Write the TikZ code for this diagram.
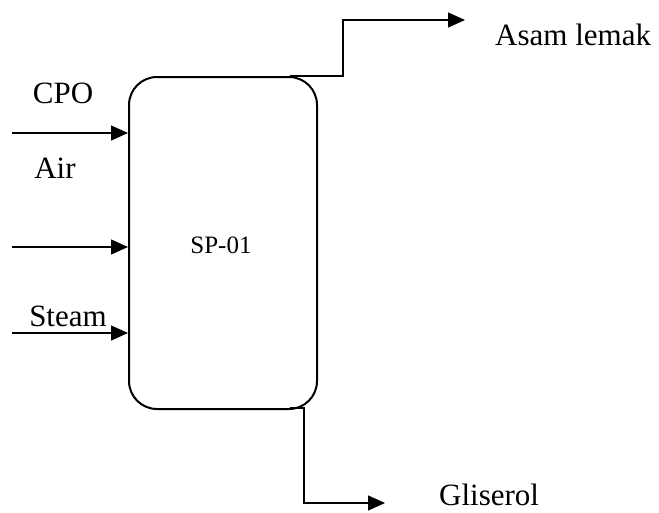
\documentclass[tikz,border=0pt]{standalone}
\usepackage{fontspec}
\setmainfont{Liberation Serif}
\usetikzlibrary{arrows.meta,calc}
\begin{document}
\begin{tikzpicture}[x=1pt,y=-1pt,
  lbl/.style={font=\fontsize{31}{35}\selectfont, inner sep=0pt},
  flow/.style={line width=1.3pt, -{Triangle[length=17pt,width=15pt]}},
  unit/.style={draw, line width=2pt, rounded corners=28pt}]
\useasboundingbox (0,0) rectangle (659,512);
\node[unit, minimum width=188pt, minimum height=332pt, anchor=north west] (sp) at (128,76) {};
\node[font=\fontsize{25}{30}\selectfont, inner sep=0pt] (splbl) at (221,245) {SP-01};
% inlets
\coordinate (i1) at (12,133);
\coordinate (i2) at (12,247);
\coordinate (i3) at (12,333);
\draw[flow] (i1) -- (i1 -| sp.west);
\draw[flow] (i2) -- (i2 -| sp.west);
\draw[flow] (i3) -- (i3 -| sp.west);
\node[lbl] (cpo) at (63,93) {CPO};
\node[lbl] (air) at (55,168) {Air};
\node[lbl] (steam) at (68,316) {Steam};
% top outlet
\coordinate (t0) at (290,76);
\coordinate (t1) at (343,76);
\coordinate (t2) at (343,20);
\coordinate (t3) at (465,20);
\draw[flow] (t0) -- (t1) -- (t2) -- (t3);
\node[lbl, anchor=west] (asam) at (495,35) {Asam lemak};
% bottom outlet
\coordinate (b0) at (290,408);
\coordinate (b1) at (304,408);
\coordinate (b2) at (304,503);
\coordinate (b3) at (385,503);
\draw[flow] (b0) -- (b1) -- (b2) -- (b3);
\node[lbl, anchor=west] (gli) at (439,495) {Gliserol};
\end{tikzpicture}
\end{document}
